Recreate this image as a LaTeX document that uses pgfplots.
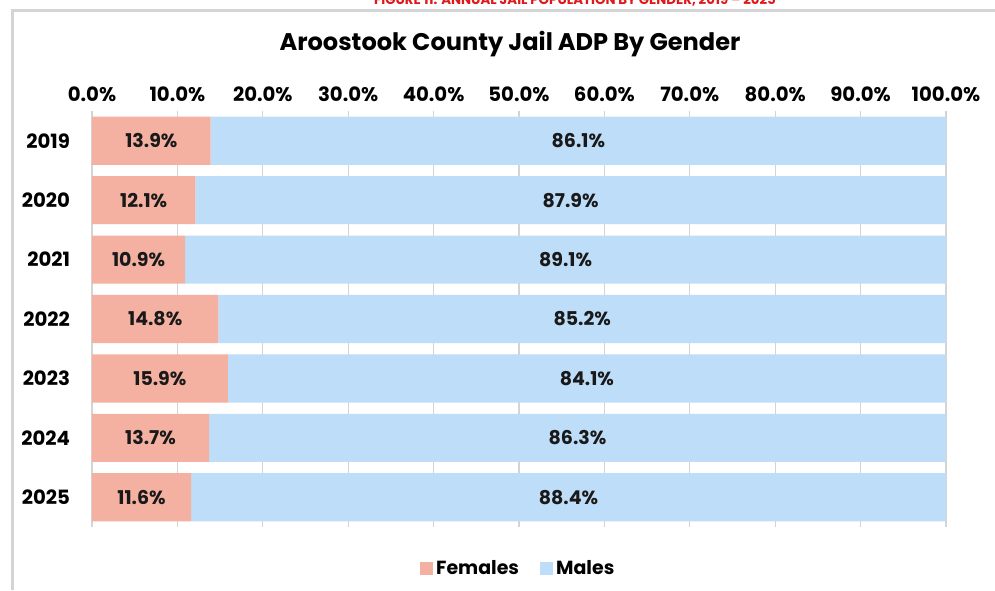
\documentclass[border=0pt]{standalone}
\usepackage{fontspec}
\setmainfont{Poppins}
\usepackage{pgfplots}
\usepackage{pgfplotstable}
\pgfplotsset{compat=1.18}
\definecolor{fem}{HTML}{F4B1A1}
\definecolor{mal}{HTML}{BEDDF8}
\definecolor{frame}{HTML}{D4D4D4}
\definecolor{figred}{HTML}{E0181B}
\pgfplotstableread{
idx year f m
0 2019 13.9 86.1
1 2020 12.1 87.9
2 2021 10.9 89.1
3 2022 14.8 85.2
4 2023 15.9 84.1
5 2024 13.7 86.3
6 2025 11.6 88.4
}\datatable
\begin{document}
\begin{tikzpicture}
\useasboundingbox (0,0) rectangle (19.9cm,-11.8cm);
\fill[white] (0,0) rectangle (19.9cm,-11.8cm);
\draw[frame, line width=0.06cm] (0.24cm,-11.8cm) -- (0.24cm,-0.2cm) -- (19.9cm,-0.2cm);
\node[figred, font=\bfseries\fontsize{7.6}{8}\selectfont, anchor=base] at (11.5cm,-0.08cm) {FIGURE 11: ANNUAL JAIL POPULATION BY GENDER, 2019 -- 2025};
\node[font=\bfseries\fontsize{13.7}{15}\selectfont] at (10.2cm,-0.88cm) {Aroostook County Jail ADP By Gender};
\pgfplotsset{
  myaxis/.style={
    scale only axis, width=17.08cm, height=8.32cm,
    at={(1.84cm,-10.54cm)}, anchor=south west,
    xmin=0, xmax=100, ymin=-0.5, ymax=6.5, y dir=reverse,
    /pgf/number format/assume math mode=true,
  }
}
\begin{axis}[myaxis,
  xbar stacked, bar width=0.81,
  xtick={0,10,...,100}, xticklabel pos=upper,
  xticklabel={\pgfmathprintnumber[fixed,fixed zerofill,precision=1]{\tick}\%},
  ytick={0,...,6}, yticklabels={2019,2020,2021,2022,2023,2024,2025},
  tick label style={font=\bfseries\fontsize{11.2}{13}\selectfont},
  xticklabel style={yshift=2pt},
  yticklabel style={xshift=-9pt},
  axis line style={draw=none}, major tick length=0pt,
  xmajorgrids, grid style={frame, line width=0.6pt},
  legend style={at={(0.5,-0.1)}, anchor=center, draw=none, legend columns=2,
    font=\bfseries\fontsize{10.8}{12}\selectfont,
    /tikz/every even column/.append style={column sep=10pt}},
  legend image code/.code={\fill[#1] (0cm,-0.12cm) rectangle (0.25cm,0.13cm);},
]
\addplot[fill=fem, draw=none] table[x=f, y=idx] {\datatable};
\addplot[fill=mal, draw=none] table[x=m, y=idx] {\datatable};
\legend{Females, Males}
\end{axis}
\begin{axis}[myaxis, hide axis,
  nodes near coords, nodes near coords align={center},
  every node near coord/.append style={font=\bfseries\fontsize{10.8}{12}\selectfont, text=black!90},
  nodes near coords={\pgfmathprintnumber[fixed,fixed zerofill,precision=1]{\pgfplotspointmeta}\%},
]
\addplot[draw=none, mark=none, point meta=explicit] table[x expr=\thisrow{f}/2, y=idx, meta=f] {\datatable};
\addplot[draw=none, mark=none, point meta=explicit] table[x expr=\thisrow{f}+\thisrow{m}/2, y=idx, meta=m] {\datatable};
\end{axis}
\end{tikzpicture}
\end{document}
